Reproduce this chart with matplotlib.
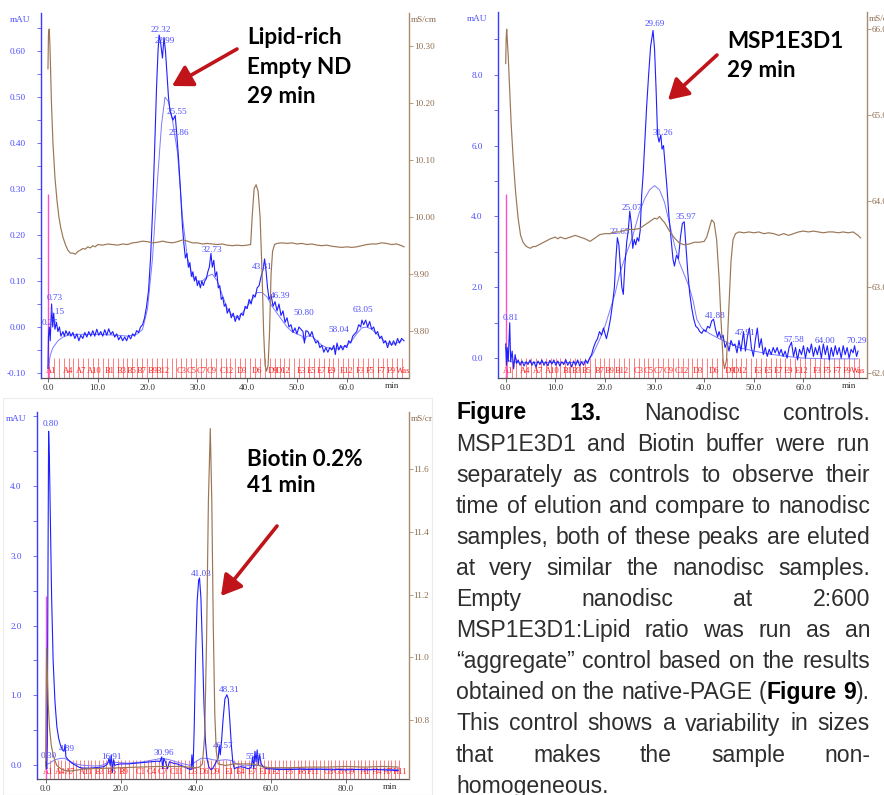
import numpy as np
import matplotlib
matplotlib.use("Agg")
import matplotlib.pyplot as plt
from matplotlib.ticker import MultipleLocator, FormatStrFormatter

# ---------------- data ----------------
# Panel 1: Lipid-rich empty ND  (time [min], absorbance [mAU])
p1_uv = np.array([
    (0.0,-0.09),(0.1,-0.02),(0.27,0.0),(0.45,-0.03),(0.73,0.05),(0.95,0.0),(1.15,0.03),(1.4,-0.005),
    (1.7,0.01),(2.0,-0.01),(2.3,0.0),(2.6,-0.02),(3.0,-0.01),(3.3,-0.02),(3.6,-0.008),(4.0,-0.018),
    (4.3,-0.01),(4.6,-0.02),(5.0,-0.012),(5.4,-0.025),(5.8,-0.015),(6.2,-0.03),(6.6,-0.018),(7.0,-0.025),
    (7.4,-0.012),(7.8,-0.022),(8.2,-0.01),(8.6,-0.02),(9.0,-0.008),(9.4,-0.02),(9.8,-0.005),(10.2,-0.018),
    (10.6,-0.01),(11.0,-0.02),(11.4,-0.006),(11.8,-0.018),(12.2,-0.004),(12.6,-0.016),(13.0,-0.01),
    (13.4,-0.022),(13.8,-0.015),(14.2,-0.028),(14.6,-0.02),(15.0,-0.03),(15.4,-0.022),(15.8,-0.03),
    (16.2,-0.018),(16.6,-0.026),(17.0,-0.015),(17.4,-0.02),(17.8,-0.008),(18.2,-0.012),(18.6,0.0),
    (19.0,0.005),(19.4,0.02),(19.8,0.045),(20.2,0.08),(20.6,0.15),(21.0,0.25),(21.4,0.38),(21.8,0.52),
    (22.1,0.6),(22.32,0.635),(22.6,0.62),(22.99,0.585),(23.3,0.63),(23.6,0.6),(23.9,0.55),(24.2,0.5),
    (24.5,0.47),(24.8,0.46),(25.1,0.45),(25.55,0.46),(25.86,0.42),(26.2,0.37),(26.6,0.3),
    (27.0,0.22),(27.3,0.18),(27.6,0.15),(27.9,0.16),(28.2,0.13),(28.5,0.14),(28.8,0.11),(29.1,0.12),
    (29.4,0.1),(29.7,0.11),(30.0,0.09),(30.3,0.1),(30.6,0.085),(30.9,0.1),(31.2,0.09),(31.5,0.1),
    (31.8,0.105),(32.1,0.12),(32.4,0.13),(32.73,0.16),(33.0,0.13),(33.3,0.145),(33.6,0.11),(33.9,0.12),
    (34.2,0.085),(34.5,0.09),(34.8,0.06),(35.1,0.065),(35.4,0.045),(35.7,0.05),(36.0,0.03),(36.4,0.04),
    (36.8,0.02),(37.2,0.03),(37.6,0.012),(38.0,0.025),(38.4,0.015),(38.8,0.03),(39.2,0.025),(39.6,0.045),
    (40.0,0.04),(40.4,0.06),(40.8,0.05),(41.2,0.07),(41.6,0.065),(42.0,0.085),(42.4,0.09),(42.8,0.11),
    (43.2,0.125),(43.5,0.148),(43.81,0.12),(44.1,0.085),(44.4,0.06),(44.8,0.07),(45.2,0.045),(45.6,0.055),
    (46.0,0.035),(46.39,0.05),(46.8,0.025),(47.2,0.035),(47.6,0.01),(48.0,0.02),(48.4,0.0),(48.8,0.005),
    (49.2,-0.012),(49.6,-0.002),(50.0,-0.015),(50.4,0.0),(50.8,-0.005),(51.2,-0.01),(51.5,-0.035),
    (51.8,-0.008),(52.2,-0.01),(52.6,-0.02),(53.0,-0.01),(53.4,-0.025),(53.8,-0.035),(54.2,-0.03),
    (54.6,-0.045),(55.0,-0.04),(55.4,-0.055),(55.8,-0.045),(56.2,-0.055),(56.6,-0.045),(57.0,-0.05),
    (57.4,-0.04),(57.7,-0.06),(58.04,-0.035),(58.4,-0.05),(58.8,-0.04),(59.2,-0.05),(59.6,-0.04),
    (60.0,-0.045),(60.4,-0.03),(60.8,-0.035),(61.2,-0.02),(61.6,-0.015),(62.0,-0.01),(62.4,0.005),
    (62.8,0.0),(63.05,0.015),(63.4,0.005),(63.8,0.015),(64.2,0.0),(64.6,0.012),(65.0,-0.005),(65.4,0.0),
    (65.8,-0.015),(66.2,-0.01),(66.6,-0.025),(67.0,-0.02),(67.4,-0.035),(67.8,-0.03),(68.2,-0.045),
    (68.6,-0.03),(69.0,-0.04),(69.4,-0.03),(69.8,-0.04),(70.2,-0.025),(70.6,-0.035),(71.0,-0.025),
    (71.5,-0.03)])
p1_fit = np.array([
    (0.0,-0.09),(0.5,-0.06),(1.0,-0.045),(2.0,-0.03),(3.0,-0.022),(4.0,-0.018),(6.0,-0.016),(10.0,-0.016),
    (14.0,-0.018),(16.0,-0.02),(18.0,-0.015),(19.0,-0.005),(20.0,0.04),(21.0,0.15),(22.0,0.32),
    (22.8,0.44),(23.5,0.5),(24.2,0.49),(25.0,0.45),(26.0,0.38),(27.0,0.24),(28.0,0.15),(29.0,0.11),
    (30.0,0.1),(31.0,0.1),(32.0,0.11),(33.0,0.115),(34.0,0.1),(35.0,0.07),(36.0,0.04),(37.0,0.025),
    (38.0,0.02),(39.0,0.03),(40.0,0.045),(41.0,0.06),(42.0,0.075),(43.0,0.075),(44.0,0.065),(45.0,0.045),
    (46.0,0.03),(47.0,0.015),(48.0,0.0),(49.0,-0.01),(50.0,-0.015),(51.0,-0.02),(51.5,-0.03),(52.0,-0.02),
    (53.0,-0.02),(54.0,-0.03),(55.0,-0.04),(56.0,-0.045),(58.0,-0.048),(60.0,-0.04),(61.0,-0.03),
    (62.0,-0.015),(63.0,-0.002),(64.0,0.0),(65.0,-0.005),(66.0,-0.015),(67.0,-0.025),(68.0,-0.035),
    (69.0,-0.038),(70.0,-0.035),(71.0,-0.03)])
p1_cond = np.array([
    (0.0,10.26),(0.1,10.32),(0.25,10.33),(0.4,10.30),(0.7,10.2),(1.0,10.13),(1.4,10.07),(1.8,10.03),
    (2.2,10.0),(2.6,9.98),(3.0,9.965),(3.5,9.952),(4.0,9.942),(4.5,9.937),(5.0,9.937),(5.5,9.935),
    (6.0,9.94),(6.5,9.942),(7.0,9.945),(7.5,9.944),(8.0,9.948),(8.5,9.946),(9.0,9.95),(9.5,9.948),
    (10.0,9.952),(11.0,9.951),(12.0,9.953),(13.0,9.952),(14.0,9.951),(15.0,9.953),(16.0,9.952),
    (17.0,9.955),(18.0,9.956),(19.0,9.958),(20.0,9.957),(21.0,9.955),(22.0,9.956),(23.0,9.958),
    (24.0,9.956),(25.0,9.955),(26.0,9.957),(27.0,9.96),(28.0,9.958),(29.0,9.955),(30.0,9.955),
    (31.0,9.953),(32.0,9.954),(33.0,9.953),(34.0,9.952),(35.0,9.953),(36.0,9.951),(37.0,9.95),
    (38.0,9.951),(39.0,9.95),(40.0,9.951),(40.7,9.952),(41.0,10.0),(41.4,10.05),(41.8,10.057),
    (42.2,10.045),(42.6,10.0),(43.0,9.9),(43.3,9.8),(43.6,9.74),(43.9,9.73),(44.2,9.74),(44.5,9.8),
    (44.8,9.9),(45.1,9.94),(45.5,9.952),(46.0,9.954),(47.0,9.955),(48.0,9.954),(49.0,9.955),
    (50.0,9.953),(51.0,9.954),(52.0,9.952),(53.0,9.953),(54.0,9.951),(55.0,9.95),(56.0,9.951),
    (57.0,9.949),(58.0,9.948),(59.0,9.947),(60.0,9.948),(61.0,9.947),(62.0,9.948),(63.0,9.95),
    (64.0,9.952),(65.0,9.953),(66.0,9.953),(67.0,9.955),(68.0,9.954),(69.0,9.952),(70.0,9.953),
    (71.0,9.95),(71.5,9.948)])
p1_inject = (0.1, 0.29)
p1_peak_names = ["22.32","22.99","25.55","25.86","32.73","43.81","46.39","50.80","58.04","63.05","0.73","1.15","0.27"]
p1_peak_t = [22.7, 23.4, 25.8, 26.2, 33.0, 43.1, 46.6, 51.3, 58.4, 63.3, 1.3, 1.75, 0.4]
p1_peak_y = [0.645, 0.623, 0.467, 0.422, 0.168, 0.130, 0.068, 0.030, -0.007, 0.036, 0.064, 0.032, 0.008]
p1_frac_names = ["A1","A4","A7","A10","B1","B3","B5","B7","B9","B12","C3","C5","C7","C9","C12",
                 "D3","D6","D9","D12","E3","E5","E7","E9","E12","F3","F5","F7","F9","Was"]
p1_frac_t = [0.7,4.1,6.6,9.4,12.4,14.8,16.8,18.8,21.0,23.1,26.8,28.8,30.9,32.9,35.9,
             38.9,41.9,45.1,47.3,50.9,53.0,55.0,57.0,60.0,62.7,64.7,67.0,69.0,71.3]

# Panel 2: MSP1E3D1
p2_uv = np.array([
    (0.0,0.4),(0.15,-0.2),(0.3,0.3),(0.5,-0.1),(0.81,1.0),(1.0,-0.1),(1.3,0.2),(1.6,-0.3),(1.9,0.1),
    (2.2,-0.15),(2.5,-0.05),(2.9,-0.2),(3.3,-0.08),(3.7,-0.22),(4.1,-0.1),(4.5,-0.18),(4.9,-0.05),
    (5.3,-0.2),(5.7,-0.1),(6.1,-0.25),(6.5,-0.08),(6.9,-0.18),(7.3,-0.05),(7.7,-0.2),(8.1,-0.1),
    (8.5,-0.22),(8.9,-0.06),(9.3,-0.17),(9.7,-0.05),(10.1,-0.2),(10.5,-0.08),(10.9,-0.22),(11.3,-0.1),
    (11.7,-0.18),(12.1,-0.04),(12.5,-0.2),(12.9,-0.1),(13.3,-0.25),(13.7,-0.08),(14.1,-0.2),(14.5,-0.05),
    (14.9,-0.22),(15.3,-0.1),(15.7,-0.2),(16.1,-0.05),(16.5,-0.15),(16.9,0.0),(17.3,0.1),(17.7,0.3),
    (18.1,0.45),(18.5,0.55),(18.9,0.75),(19.3,0.65),(19.7,0.85),(20.0,0.7),(20.3,0.55),(20.7,0.8),
    (21.1,1.1),(21.5,1.5),(21.9,2.0),(22.2,2.8),(22.5,3.4),(22.8,3.2),(23.1,2.6),(23.4,2.0),(23.7,1.8),
    (24.0,2.6),(24.4,3.3),(24.7,3.6),(25.0,4.15),(25.3,3.8),(25.6,3.1),(25.9,3.35),(26.2,3.2),
    (26.5,3.4),(26.8,3.3),(27.1,3.6),(27.4,4.6),(27.7,5.2),(28.0,6.0),(28.4,7.1),(28.8,8.0),(29.2,8.8),
    (29.69,9.25),(30.0,8.7),(30.3,7.6),(30.6,6.3),(30.9,6.1),(31.26,6.3),(31.5,5.9),(31.8,6.0),
    (32.1,5.5),(32.5,4.8),(32.9,4.0),(33.3,3.4),(33.7,2.8),(34.0,2.6),(34.4,2.9),(34.8,2.8),(35.2,3.4),
    (35.6,3.8),(35.97,3.85),(36.3,3.2),(36.7,2.4),(37.1,1.8),(37.5,1.4),(37.9,1.1),(38.3,0.9),
    (38.7,0.85),(39.1,0.75),(39.5,0.7),(39.9,0.8),(40.3,0.75),(40.7,0.9),(41.1,0.85),(41.5,1.05),
    (41.88,1.1),(42.3,0.8),(42.7,0.6),(43.0,0.75),(43.4,0.55),(43.8,0.65),(44.2,0.3),(44.6,0.45),
    (45.0,0.2),(45.4,0.5),(45.8,0.35),(46.2,0.4),(46.6,0.15),(47.0,0.5),(47.4,0.2),(47.91,0.75),
    (48.3,0.2),(48.7,0.6),(49.1,0.85),(49.5,0.3),(49.9,0.05),(50.3,0.5),(50.7,0.85),(51.1,0.3),
    (51.5,0.55),(51.9,0.1),(52.3,0.3),(52.7,0.05),(53.1,0.25),(53.5,0.1),(53.9,0.3),(54.3,0.15),
    (54.7,0.3),(55.1,0.1),(55.5,0.25),(55.9,0.05),(56.3,0.2),(56.7,0.0),(57.1,0.3),(57.58,0.45),
    (58.0,0.05),(58.4,0.3),(58.8,-0.05),(59.2,0.25),(59.6,0.1),(60.0,0.35),(60.4,0.0),(60.8,0.3),
    (61.2,0.15),(61.6,0.4),(62.0,0.05),(62.4,0.3),(62.8,0.1),(63.2,0.35),(63.6,0.0),(64.0,0.4),
    (64.4,0.1),(64.8,0.35),(65.2,-0.05),(65.6,0.3),(66.0,0.05),(66.4,0.35),(66.8,0.1),(67.2,0.3),
    (67.6,0.0),(68.0,0.35),(68.4,0.1),(68.8,0.3),(69.2,0.0),(69.6,0.25),(70.0,0.15),(70.29,0.35),
    (70.7,0.05),(71.0,0.2)])
p2_fit = np.array([
    (0.0,0.3),(0.5,-0.05),(1.0,-0.1),(3.0,-0.12),(8.0,-0.12),(14.0,-0.12),(16.5,-0.1),(17.5,0.1),
    (19.0,0.55),(20.0,0.9),(22.0,1.8),(23.0,2.4),(24.3,2.95),(25.5,3.4),(26.9,4.1),(28.0,4.5),
    (29.0,4.75),(30.0,4.87),(31.0,4.75),(32.0,4.4),(33.0,3.8),(34.0,3.2),(35.0,2.7),(36.0,2.35),
    (37.0,2.0),(37.8,1.6),(38.5,1.1),(39.5,0.85),(41.0,0.7),(43.0,0.55),(45.0,0.42),(47.0,0.3),
    (50.0,0.2),(53.0,0.12),(56.0,0.06),(60.0,0.0),(65.0,-0.02),(71.0,-0.02)])
p2_cond = np.array([
    (0.0,65.6),(0.1,65.9),(0.2,66.0),(0.35,65.85),(0.5,65.7),(0.8,65.3),(1.1,64.9),(1.5,64.5),
    (2.0,64.1),(2.5,63.8),(3.0,63.6),(3.5,63.52),(4.0,63.48),(4.5,63.46),(5.0,63.45),(5.5,63.47),
    (6.0,63.47),(7.0,63.5),(8.0,63.53),(9.0,63.56),(10.0,63.58),(10.5,63.56),(11.0,63.58),(12.0,63.56),
    (13.0,63.58),(14.0,63.6),(15.0,63.58),(16.0,63.56),(17.0,63.53),(18.0,63.57),(19.0,63.61),
    (20.0,63.62),(21.0,63.62),(22.0,63.64),(23.0,63.64),(24.0,63.66),(25.0,63.67),(26.0,63.67),
    (27.0,63.68),(28.0,63.72),(29.0,63.76),(30.0,63.8),(30.5,63.79),(31.0,63.82),(31.5,63.78),
    (32.0,63.75),(32.5,63.7),(33.0,63.65),(34.0,63.57),(35.0,63.51),(36.0,63.49),(37.0,63.5),
    (38.0,63.52),(39.0,63.52),(40.0,63.53),(40.5,63.58),(41.0,63.68),(41.5,63.78),(42.0,63.75),
    (42.5,63.55),(43.0,63.1),(43.4,62.6),(43.8,62.15),(44.1,62.05),(44.5,62.15),(45.0,62.8),
    (45.4,63.3),(45.8,63.55),(46.3,63.62),(47.0,63.64),(48.0,63.63),(49.0,63.64),(50.0,63.63),
    (51.0,63.64),(52.0,63.62),(53.0,63.63),(54.0,63.62),(55.0,63.6),(56.0,63.62),(57.0,63.6),
    (58.0,63.62),(59.0,63.64),(60.0,63.65),(61.0,63.64),(62.0,63.65),(63.0,63.64),(64.0,63.63),
    (65.0,63.64),(66.0,63.64),(67.0,63.63),(68.0,63.64),(69.0,63.63),(70.0,63.64),(71.0,63.6),
    (71.5,63.57)])
p2_inject = (0.1, 4.64)
p2_peak_names = ["29.69","31.26","25.07","22.65","35.97","41.88","47.91","57.58","64.00","70.29","0.81"]
p2_peak_t = [29.96, 31.65, 25.4, 22.9, 36.35, 42.2, 48.2, 58.0, 64.4, 70.8, 1.07]
p2_peak_y = [9.42, 6.35, 4.25, 3.55, 3.97, 1.19, 0.70, 0.50, 0.48, 0.48, 1.12]
p2_frac_names = p1_frac_names
p2_frac_t = [0.5,3.9,6.6,9.3,12.4,14.3,16.3,18.9,20.9,23.4,26.7,28.8,30.8,32.8,35.5,
             38.8,42.0,45.1,47.2,50.9,52.9,55.0,57.0,59.7,62.8,64.8,66.9,68.9,71.1]

# Panel 3: Biotin 0.2 %
p3_uv = np.array([
    (0.0,0.0),(0.15,0.05),(0.3,-0.05),(0.45,0.3),(0.6,2.5),(0.8,4.78),(1.0,4.4),(1.3,3.4),(1.6,2.4),
    (2.0,1.5),(2.5,0.9),(3.0,0.55),(3.5,0.38),(4.0,0.28),(4.5,0.22),(4.89,0.2),(5.2,0.3),(5.4,0.12),
    (6.0,0.08),(7.0,0.03),(8.0,0.0),(9.0,-0.03),(10.0,-0.04),(12.0,-0.04),(14.0,-0.03),(15.5,-0.02),
    (16.5,0.02),(16.91,0.1),(17.2,0.0),(17.5,0.15),(17.8,-0.1),(18.1,0.08),(18.4,0.0),(19.0,0.01),
    (20.0,0.02),(22.0,0.02),(24.0,0.03),(26.0,0.04),(28.0,0.05),(30.0,0.06),(30.5,0.05),(30.96,0.12),
    (31.2,-0.05),(31.5,0.1),(32.0,0.04),(32.5,-0.05),(33.0,0.05),(34.0,0.03),(35.0,0.02),(36.0,0.0),
    (37.0,-0.02),(38.0,-0.05),(38.8,-0.06),(39.0,0.15),(39.3,-0.05),(39.6,0.5),(40.0,1.6),(40.4,2.35),
    (40.8,2.65),(41.03,2.68),(41.4,2.4),(41.8,1.7),(42.2,0.9),(42.6,0.35),(43.0,0.1),(43.5,-0.02),
    (44.0,-0.06),(44.5,-0.05),(45.0,0.0),(45.5,0.05),(46.0,0.1),(46.3,0.28),(46.57,0.15),(46.9,0.35),
    (47.3,0.65),(47.8,0.95),(48.31,1.01),(48.7,0.95),(49.1,0.65),(49.5,0.3),(49.9,0.05),(50.3,-0.05),
    (51.0,-0.03),(52.0,-0.02),(53.0,-0.03),(54.0,-0.05),(54.8,-0.03),(55.2,0.12),(55.5,-0.05),
    (55.81,0.2),(56.1,0.05),(56.4,0.22),(56.7,0.0),(57.0,0.15),(57.5,0.02),(58.0,-0.02),(59.0,-0.05),
    (60.0,-0.05),(62.0,-0.06),(65.0,-0.06),(68.0,-0.055),(70.0,-0.06),(73.0,-0.055),(76.0,-0.065),
    (78.0,-0.06),(80.0,-0.065),(83.0,-0.06),(86.0,-0.065),(88.0,-0.06),(90.0,-0.065),(92.0,-0.07),
    (94.0,-0.075)])
p3_fit = np.array([
    (0.0,0.0),(1.0,0.03),(2.5,0.08),(4.0,0.1),(5.0,0.1),(6.0,0.07),(8.0,0.02),(10.0,0.0),(13.0,-0.01),
    (15.0,0.0),(17.0,0.05),(19.0,0.04),(22.0,0.03),(26.0,0.05),(29.0,0.08),(31.0,0.1),(33.0,0.08),
    (36.0,0.03),(38.5,0.0),(40.0,0.05),(41.5,0.1),(43.0,0.1),(44.5,0.08),(46.0,0.07),(48.0,0.08),
    (49.5,0.07),(51.0,0.02),(53.0,-0.01),(55.0,0.0),(57.0,0.0),(59.0,-0.03),(62.0,-0.05),(94.0,-0.06)])
p3_cond = np.array([
    (0.0,10.65),(0.1,10.8),(0.25,11.03),(0.45,10.95),(0.7,10.85),(1.0,10.78),(1.5,10.72),(2.0,10.69),
    (2.5,10.67),(3.0,10.655),(4.0,10.645),(5.0,10.64),(6.0,10.638),(7.0,10.638),(8.0,10.64),
    (10.0,10.643),(12.0,10.645),(15.0,10.646),(18.0,10.647),(20.0,10.648),(25.0,10.65),(30.0,10.652),
    (35.0,10.652),(38.0,10.65),(40.0,10.648),(41.0,10.65),(41.8,10.66),(42.4,10.75),(42.9,11.05),
    (43.4,11.5),(43.9,11.73),(44.3,11.5),(44.7,11.1),(45.1,10.82),(45.5,10.7),(46.0,10.66),
    (48.0,10.655),(50.0,10.66),(55.0,10.66),(57.0,10.655),(58.0,10.65),(60.0,10.648),(65.0,10.648),
    (70.0,10.65),(75.0,10.65),(80.0,10.652),(85.0,10.65),(90.0,10.652),(94.0,10.65)])
p3_inject = (0.1, 2.42)
p3_peak_names = ["0.80","0.30","4.89","16.91","30.96","41.03","48.31","46.57","55.81"]
p3_peak_t = [1.4, 0.9, 5.6, 17.6, 31.5, 41.6, 48.9, 47.2, 56.0]
p3_peak_y = [4.88, 0.13, 0.23, 0.12, 0.17, 2.74, 1.08, 0.28, 0.12]
p3_frac_names = ["A1","A4","A7","A11","B3","B6","B9","C1","C4","C7","C11","D3","D6","D9","E1",
                 "E4","E7","E11","F2","F5","F8","F11","G3","G6","G9","H1","H4","H7","H11"]
p3_frac_t = [0.7,3.8,6.5,10.8,14.5,17.6,20.9,25.2,28.3,31.1,35.0,39.2,42.2,45.2,49.0,
             52.0,55.2,58.5,61.6,65.0,68.3,71.4,75.4,78.3,81.1,85.2,88.3,91.4,94.5]

caption_lines = [
    "*Figure* *13.* Nanodisc controls.",
    "MSP1E3D1 and Biotin buffer were run",
    "separately as controls to observe their",
    "time of elution and compare to nanodisc",
    "samples, both of these peaks are eluted",
    "at very similar the nanodisc samples.",
    "Empty nanodisc at 2:600",
    "MSP1E3D1:Lipid ratio was run as an",
    "\u201caggregate\u201d control based on the results",
    "obtained on the native-PAGE (*Figure* *9*).",
    "This control shows a variability in sizes",
    "that makes the sample non-",
    "homogeneous.",
]

# ---------------- styling ----------------
W, H = 884, 795
BLUE = "#1f1fff"
BLUE_FIT = "#7a7aff"
BLUE_TXT = "#4b4bff"
BROWN = "#9a7656"
BROWN_TXT = "#8c6a4e"
MAGENTA = "#ff4fd0"
RED = "#ff5a5a"
ARROW = "#c0141a"
SERIF = ["Liberation Serif", "DejaVu Serif"]
TFS = 6.6

fig = plt.figure(figsize=(W / 100, H / 100), dpi=100)
fig.patch.set_facecolor("white")


def fbox(l, t, r, b):
    return [l / W, 1 - b / H, (r - l) / W, (b - t) / H]


def fp(x, y):
    return (x / W, 1 - y / H)


# faint frame around the lower-left screenshot
fig.add_artist(plt.Rectangle(fp(3, 795), 429 / W, 397 / H, transform=fig.transFigure,
                             fill=False, edgecolor="#ececec", lw=0.8))


def panel(box, xlim, ylim, y2lim, uv, fit, cond, inject, pk_names, pk_t, pk_y,
          fr_names, fr_t, fr_start, fr_step, fr_n, fr_h, xmajor, ymajor, ymax_lab, yminor, yfmt,
          y2major, y2fmt, min_x, unit2):
    ax = fig.add_axes(box)
    for s in ("top", "right"):
        ax.spines[s].set_visible(False)
    ax.spines["left"].set_color("#3c3cff")
    ax.spines["left"].set_linewidth(1.0)
    ax.spines["bottom"].set_color("#555555")
    ax.spines["bottom"].set_linewidth(0.9)
    ax.patch.set_alpha(0)

    # fraction marks
    edges = fr_start + fr_step * np.arange(fr_n)
    ax.vlines(edges, 0, fr_h, transform=ax.get_xaxis_transform(), colors=RED, lw=0.55, zorder=1)
    for nm, t in zip(fr_names, fr_t):
        ax.text(t, 0.018, nm, transform=ax.get_xaxis_transform(), ha="center", va="center",
                fontsize=6.1, color="#ff1f1f", family=SERIF, zorder=2, clip_on=False)

    ax.plot(fit[:, 0], fit[:, 1], color=BLUE_FIT, lw=0.7, zorder=3)
    ax.plot(uv[:, 0], uv[:, 1], color=BLUE, lw=0.8, zorder=4)
    ax.vlines([inject[0]], ylim[0], inject[1], colors=MAGENTA, lw=1.0, zorder=2)
    for nm, t, y in zip(pk_names, pk_t, pk_y):
        ax.text(t, y, nm, ha="center", va="center", fontsize=TFS, color=BLUE_TXT,
                family=SERIF, zorder=6)

    yt = np.round(np.arange(np.ceil(ylim[0] / ymajor - 1e-6) * ymajor, ymax_lab + 1e-9, ymajor), 6) + 0.0
    ax.set_yticks(yt)
    ax.set_yticklabels([yfmt % (v + 0.0) for v in yt])
    ax.yaxis.set_minor_locator(MultipleLocator(yminor))
    xt = np.arange(0, xlim[1] - 5, xmajor)
    ax.set_xticks(xt)
    ax.set_xticklabels(["%.1f" % v for v in xt])
    ax.set_xlim(*xlim)
    ax.set_ylim(*ylim)
    ax.tick_params(axis="x", colors="#555555", labelcolor="#333333", labelsize=TFS,
                   length=3, width=0.6, pad=1.5)
    ax.tick_params(axis="y", which="both", colors="#5a5aff", labelcolor=BLUE_TXT,
                   labelsize=TFS, length=3, width=0.6, pad=8)
    for lab in ax.get_xticklabels() + ax.get_yticklabels():
        lab.set_family(SERIF)
    ax.text(min_x, -0.022, "min", transform=ax.get_xaxis_transform(), ha="center", va="center",
            fontsize=TFS, color="#333333", family=SERIF)
    ax.text(-0.056, 0.98, "mAU", transform=ax.transAxes, ha="center", va="center",
            fontsize=TFS, color=BLUE_TXT, family=SERIF)

    ax2 = ax.twinx()
    ax2.set_ylim(*y2lim)
    for s in ("top", "left", "bottom"):
        ax2.spines[s].set_visible(False)
    ax2.spines["right"].set_color("#a88a6c")
    ax2.spines["right"].set_linewidth(1.0)
    ax2.plot(cond[:, 0], cond[:, 1], color=BROWN, lw=0.85, zorder=2)
    ax2.yaxis.set_major_locator(MultipleLocator(y2major))
    ax2.yaxis.set_major_formatter(FormatStrFormatter(y2fmt))
    ax2.tick_params(axis="y", colors="#a88a6c", labelcolor=BROWN_TXT, labelsize=TFS,
                    length=3, width=0.6, pad=0.5)
    for lab in ax2.get_yticklabels():
        lab.set_family(SERIF)
    ax2.text(1.005, 0.98, unit2, transform=ax2.transAxes, ha="left", va="center",
             fontsize=TFS, color=BROWN_TXT, family=SERIF)
    return ax


panel(fbox(41, 13, 409, 378), (-1.4, 72.5), (-0.111, 0.683), (9.718, 10.358),
      p1_uv, p1_fit, p1_cond, p1_inject, p1_peak_names, p1_peak_t, p1_peak_y,
      p1_frac_names, p1_frac_t, 0.2, 0.985, 73, 0.055,
      10, 0.1, 0.6, 0.05, "%.2f", 0.1, "%.2f", 69.0, "mS/cm")
panel(fbox(498, 12, 867, 378), (-1.55, 72.8), (-0.56, 9.77), (61.94, 66.2),
      p2_uv, p2_fit, p2_cond, p2_inject, p2_peak_names, p2_peak_t, p2_peak_y,
      p2_frac_names, p2_frac_t, 0.2, 0.985, 73, 0.055,
      10, 2.0, 8.0, 1.0, "%.1f", 1.0, "%.1f", 69.1, "mS/cm")
panel(fbox(37, 411.7, 408.7, 779), (-2.3, 96.8), (-0.196, 5.06), (10.612, 11.784),
      p3_uv, p3_fit, p3_cond, p3_inject, p3_peak_names, p3_peak_t, p3_peak_y,
      p3_frac_names, p3_frac_t, 0.2, 1.0, 95, 0.052,
      20, 1.0, 4.0, 0.5, "%.1f", 0.2, "%.1f", 91.8, "mS/cn")

# ---------------- annotations ----------------
BIG = dict(fontsize=16.2, weight="bold", family=["Lato", "DejaVu Sans"], color="black",
           ha="left", va="baseline")
for txt, x, y in [("Lipid-rich", 247, 44.3), ("Empty ND", 247, 73.5), ("29 min", 247, 103),
                  ("MSP1E3D1", 727, 47.7), ("29 min", 727, 76.7),
                  ("Biotin 0.2%", 247, 466), ("41 min", 247, 491.7)]:
    fig.text(*fp(x, y), txt, **BIG)

for tail, head in [((237, 49), (172, 86)), ((717, 55), (668, 100)), ((277, 526), (221, 596))]:
    fig.add_artist(matplotlib.patches.FancyArrowPatch(
        fp(*tail), fp(*head), transform=fig.transFigure, arrowstyle="-|>,head_length=0.55,head_width=0.32",
        mutation_scale=22, color=ARROW, lw=2.6, shrinkA=0, shrinkB=0))

# ---------------- justified caption ----------------
CAP_FONT = ["Liberation Sans", "DejaVu Sans"]
CAP_FS = 16.6
renderer = fig.canvas.get_renderer()


def measure(s, bold):
    t = fig.text(0, 0, s, fontsize=CAP_FS, family=CAP_FONT, weight="bold" if bold else "normal")
    w = t.get_window_extent(renderer=renderer).width
    t.remove()
    return w


def parse_word(word):
    parts = word.split("*")
    return [(p, i % 2 == 1) for i, p in enumerate(parts) if p]


space_w = measure("a b", False) - measure("ab", False)
X0, X1 = 456, 870
BASE0, LINE_H = 419.5, 31.1
for i, line in enumerate(caption_lines):
    words = [parse_word(w) for w in line.split(" ")]
    widths = [sum(measure(s, b) for s, b in wd) for wd in words]
    last = i == len(caption_lines) - 1
    if last or len(words) == 1:
        gap = space_w
    else:
        gap = (X1 - X0 - sum(widths)) / (len(words) - 1)
    x = X0
    y = BASE0 + LINE_H * i
    for wd in words:
        for s, b in wd:
            fig.text(*fp(x, y), s, fontsize=CAP_FS, family=CAP_FONT,
                     weight="bold" if b else "normal", color="black" if b else "#2e2e2e",
                     ha="left", va="baseline")
            x += measure(s, b)
        x += gap

fig.savefig("out.png", dpi=100, facecolor="white")
